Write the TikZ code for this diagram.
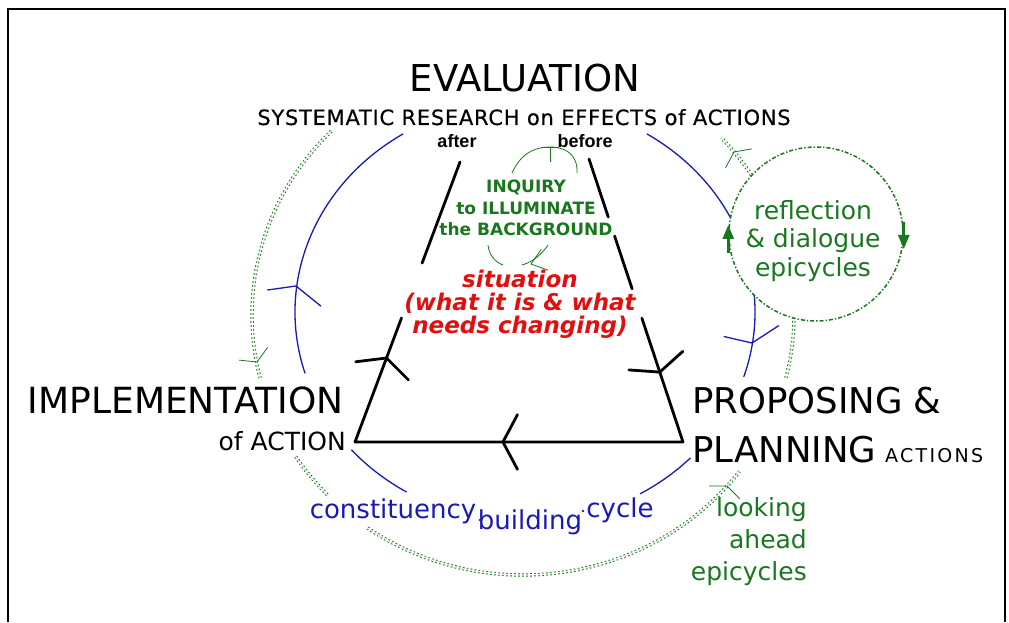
\documentclass[tikz,border=0pt]{standalone}
\usepackage{fontspec}
\setmainfont{DejaVu Sans}
\newfontfamily\arialfont{Liberation Sans}
\usetikzlibrary{calc, arrows.meta}

\definecolor{cycblue}{RGB}{25,25,185}
\definecolor{epigreen}{RGB}{25,120,30}
\definecolor{sitred}{RGB}{225,15,15}

\newcommand{\fsz}[2]{\fontsize{#1}{#2}\selectfont}

\begin{document}
\begin{tikzpicture}[x=1pt, y=1pt, every node/.style={inner sep=0pt},
  trap/.style={line width=2.8pt, line cap=round, line join=round},
  cyc/.style={draw=cycblue, line width=1.3pt},
  epi/.style={draw=epigreen, line width=1pt, double, double distance=1.4pt, dash pattern=on 1.6pt off 2.4pt},
  epicirc/.style={circle, draw=epigreen, fill=white, line width=1.5pt, dash pattern=on 4pt off 2pt on 1.4pt off 2pt, minimum size=174pt},
  barb/.style={epigreen, line width=0.8pt},
  blu/.style={text=cycblue, font=\fsz{26}{30}},
  inq/.style={text=epigreen, font=\bfseries\fsz{17}{21.5}, align=center},
  sit/.style={text=sitred, font=\bfseries\itshape\fsz{23}{23}, align=center},
  epitxt/.style={text=epigreen, font=\fsz{25}{28.5}, align=center}]

\useasboundingbox (0,0) rectangle (1009,622);
\draw[line width=2.4pt] (8,0) -- (8,613) -- (1005,613) -- (1005,0);

\coordinate (cc) at (525,310);
\coordinate (ec) at (523,307);

% constituency building cycle
\foreach \a/\b in {122/197, 221/239, 300/316, 342/418}
  \draw[cyc] (cc) ++(\a:230pt and 210pt) arc[start angle=\a, end angle=\b, x radius=230pt, y radius=210pt];

% looking ahead epicycles
\foreach \a/\b in {135/194, 213/224, 235/323, 346/403}
  \draw[epi] (ec) ++(\a:271pt and 260pt) arc[start angle=\a, end angle=\b, x radius=271pt, y radius=260pt];

\node[epicirc] (refl) at (816,388) {};
\draw[epigreen, line width=2.6pt, -{Triangle[length=14pt, width=11pt]}] ([yshift=-19pt]refl.west) -- ([yshift=9pt]refl.west);
\draw[epigreen, line width=2.6pt, -{Triangle[length=14pt, width=11pt]}] ([yshift=12pt]refl.east) -- ([yshift=-15pt]refl.east);

% trapezoid
\coordinate (aL) at (460,460);
\coordinate (iL) at (355,180);
\coordinate (bR) at (589,463);
\coordinate (pR) at (683,180);
\draw[trap] (aL) -- ($(aL)!0.361!(iL)$);
\draw[trap] ($(aL)!0.557!(iL)$) -- (iL) -- (pR) -- ($(bR)!0.562!(pR)$);
\draw[trap] ($(bR)!0.459!(pR)$) -- ($(bR)!0.272!(pR)$);
\draw[trap] ($(bR)!0.205!(pR)$) -- (bR);

\coordinate (tL) at ($(aL)!0.7!(iL)$);
\coordinate (tR) at ($(bR)!0.753!(pR)$);
\coordinate (tB) at ($(iL)!0.451!(pR)$);
\foreach \p/\a/\b in {tL/187/315, tR/176/42, tB/62/-62}
  \draw[trap] (\p) ++(\a:31pt) -- (\p) -- ++(\b:31pt);

\coordinate (cL) at (296,336);
\coordinate (cR) at (752,279);
\foreach \p/\a/\b in {cL/188/321, cR/167/33}
  \draw[cyc] (\p) ++(\a:29pt) -- (\p) -- ++(\b:32pt);

\coordinate (gL) at (257,260);
\coordinate (gB) at (727,136);
\coordinate (gT) at (734,470);
\coordinate (gI) at (531,358);
\foreach \p/\a/\b in {gL/174/54, gB/180/-45, gT/10/242, gI/55/340}
  \draw[barb] (\p) ++(\a:18pt) -- (\p) -- ++(\b:18pt);

% inquiry loop
\draw[barb] (512,449) .. controls (521,469) and (535,475) .. (550,475) .. controls (566,475) and (578,467) .. (577,449);
\draw[barb] (541,475) -- (559,475) (550,475) -- (550,460);
\draw[barb] (488,377) .. controls (489,367) and (495,360) .. (503,357);
\draw[barb] (522,357) .. controls (533,360) and (542,368) .. (548,377);

\node[anchor=base] (eval) at (525,530) {\fsz{37}{44}EVALUATION};
\node[anchor=base] (sysres) at (524,497) {\fsz{21}{24}\addfontfeatures{LetterSpace=3.5, FakeBold=0.4}SYSTEMATIC RESEARCH on EFFECTS of ACTIONS};
\node[anchor=base] (aft) at (457,474) {\arialfont\bfseries\fsz{18}{20}after};
\node[anchor=base] (bef) at (585,474) {\arialfont\bfseries\fsz{18}{20}before};

\node[inq, anchor=north] (inq) at (526,442) {INQUIRY\\to ILLUMINATE\\the BACKGROUND};
\node[sit, anchor=north] (situ) at (520,352) {situation\\(what it is \& what\\needs changing)};

\node[anchor=base east] (impl) at (344,209) {\fsz{36}{40}IMPLEMENTATION};
\node[anchor=base east] (ofact) at (346,172) {\fsz{25}{30}of ACTION};
\node[anchor=base west] (prop) at (692,209) {\fsz{35.5}{40}PROPOSING \&};
\node[anchor=base west] (plan) at (692,160) {\fsz{35.5}{40}PLANNING\hspace{9pt}{\fsz{19}{20}\addfontfeatures{LetterSpace=12}ACTIONS}};

\node[epitxt, anchor=north] (refltxt) at (813,422) {reflection\\\& dialogue\\epicycles};
\node[epitxt, font=\fsz{25}{32}, align=right, anchor=north east] (look) at (807,125) {looking\\ahead\\epicycles};

\node[blu, anchor=base] (cons) at (393,104) {constituency};
\node[blu, anchor=base] (bldg) at (530,93) {building};
\node[blu, anchor=base] (cycw) at (620,105) {cycle};
\fill[cycblue] (480,102) circle (1.3pt);
\fill[cycblue] (583,111) circle (1.3pt);

\end{tikzpicture}
\end{document}
